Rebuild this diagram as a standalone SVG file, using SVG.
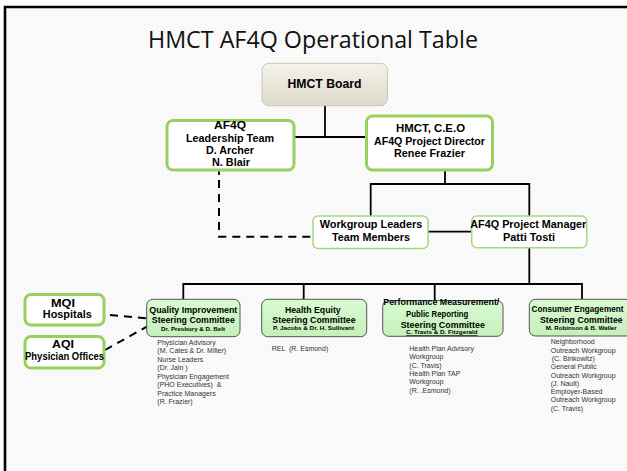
<svg xmlns="http://www.w3.org/2000/svg" width="627" height="471" viewBox="0 0 627 471">
<style>
.b{font-family:"Liberation Sans",Arial,sans-serif;font-weight:bold;fill:#000;text-anchor:middle}
.s{font-family:"Liberation Sans",Arial,sans-serif;font-size:7px;fill:#333}
.ln{fill:none;stroke:#000;stroke-width:1.8}
.dash{fill:none;stroke:#000;stroke-width:2;stroke-dasharray:8 6}
.gbox{fill:#fff;stroke:#98d05e;stroke-width:3}
.gthin{fill:#fff;stroke:#a8d87a;stroke-width:1.5}
.cbox{fill:url(#cg);stroke:#555;stroke-width:1}
</style>
<defs>
<pattern id="hatch" width="4" height="4" patternUnits="userSpaceOnUse">
<rect width="4" height="4" fill="#fcfcfc"/>
<path d="M-1,-1 L5,5 M3,-1 L5,1 M-1,3 L1,5" stroke="#efefef" stroke-width="0.9"/>
</pattern>
<linearGradient id="bg" x1="0" y1="0" x2="0" y2="1">
<stop offset="0" stop-color="#f4f2ea"/>
<stop offset="1" stop-color="#dedbc9"/>
</linearGradient>
<linearGradient id="cg" x1="0" y1="0" x2="0" y2="1">
<stop offset="0" stop-color="#d9fbd2"/>
<stop offset="1" stop-color="#c4f0ba"/>
</linearGradient>
</defs>
<rect x="0" y="0" width="627" height="471" fill="#fff"/>
<rect x="5" y="7" width="622" height="464" fill="url(#hatch)"/>
<path d="M5,471 V7 H627" fill="none" stroke="#000" stroke-width="2.6"/>

<text x="313" y="48" font-family="Open Sans, DejaVu Sans, sans-serif" font-size="24" fill="#111" text-anchor="middle" textLength="330" lengthAdjust="spacingAndGlyphs">HMCT AF4Q Operational Table</text>

<g id="connectors">
<path class="ln" d="M325,95 V137 M294,137 H366"/>
<path class="ln" d="M445,170 V184 M370.7,216 V184 H529.3 V216"/>
<path class="ln" d="M428,231.7 H471.7"/>
<path class="ln" d="M529.3,248 V284 M183.3,299 V284 H582 V299 M303.7,284 V299 M434.7,284 V300"/>
<path class="ln" d="M219,170 V175"/>
<path class="dash" d="M219,180 V236.7 H311.7"/>
<path class="dash" d="M110,315 L146.7,318.3"/>
<path class="dash" d="M105,350 L146.7,326.7"/>
</g>

<g id="board">
<rect x="262" y="63.3" width="125.5" height="42.4" rx="7" fill="url(#bg)" stroke="#c9c6b3" stroke-width="1"/>
<text class="b" x="324.5" y="88" font-size="12" textLength="74" lengthAdjust="spacingAndGlyphs">HMCT Board</text>
</g>

<g id="leadership">
<rect class="gbox" x="167" y="120.5" width="127" height="49.5" rx="6"/>
<text class="b" x="230" y="129" font-size="11" textLength="32" lengthAdjust="spacingAndGlyphs">AF4Q</text>
<text class="b" x="230" y="141.7" font-size="11" textLength="88" lengthAdjust="spacingAndGlyphs">Leadership Team</text>
<text class="b" x="230" y="154" font-size="11" textLength="48" lengthAdjust="spacingAndGlyphs">D. Archer</text>
<text class="b" x="231" y="166.3" font-size="11" textLength="38" lengthAdjust="spacingAndGlyphs">N. Blair</text>
</g>

<g id="ceo">
<rect class="gbox" x="366.5" y="116" width="126" height="54" rx="6"/>
<text class="b" x="430.5" y="131.7" font-size="11" textLength="69" lengthAdjust="spacingAndGlyphs">HMCT, C.E.O</text>
<text class="b" x="429.5" y="145" font-size="11" textLength="111" lengthAdjust="spacingAndGlyphs">AF4Q Project Director</text>
<text class="b" x="429.5" y="157.3" font-size="11" textLength="71" lengthAdjust="spacingAndGlyphs">Renee Frazier</text>
</g>

<g id="workgroup">
<rect class="gthin" x="313" y="216" width="115" height="32.5" rx="5"/>
<text class="b" x="371" y="228.3" font-size="11" textLength="102.7" lengthAdjust="spacingAndGlyphs">Workgroup  Leaders</text>
<text class="b" x="371" y="241" font-size="11" textLength="78" lengthAdjust="spacingAndGlyphs">Team Members</text>
</g>

<g id="manager">
<rect class="gthin" x="471.7" y="216" width="115" height="31.7" rx="5"/>
<text class="b" x="528.3" y="228.3" font-size="11" textLength="116" lengthAdjust="spacingAndGlyphs">AF4Q Project  Manager</text>
<text class="b" x="529" y="241" font-size="11" textLength="52" lengthAdjust="spacingAndGlyphs">Patti Tosti</text>
</g>

<g id="mqi">
<rect class="gbox" x="25" y="294.5" width="79" height="30.5" rx="6"/>
<text class="b" x="63" y="306.7" font-size="11" textLength="24" lengthAdjust="spacingAndGlyphs">MQI</text>
<text class="b" x="67.3" y="318.3" font-size="11" textLength="49" lengthAdjust="spacingAndGlyphs">Hospitals</text>
</g>

<g id="aqi">
<rect class="gbox" x="25" y="336.5" width="79" height="31.5" rx="6"/>
<text class="b" x="63" y="348.3" font-size="11" textLength="22" lengthAdjust="spacingAndGlyphs">AQI</text>
<text class="b" x="64.5" y="360" font-size="11" textLength="79" lengthAdjust="spacingAndGlyphs">Physician Offices</text>
</g>

<g id="quality">
<rect class="cbox" x="146.7" y="299.3" width="93.3" height="37.4" rx="6"/>
<text class="b" x="193.3" y="312.7" font-size="9" textLength="88" lengthAdjust="spacingAndGlyphs">Quality Improvement</text>
<text class="b" x="193.3" y="322.7" font-size="9" textLength="83" lengthAdjust="spacingAndGlyphs">Steering Committee</text>
<text class="b" x="193" y="330.7" font-size="6.2" textLength="64" lengthAdjust="spacingAndGlyphs">Dr. Presbury &amp; D. Belt</text>
<text class="s" x="157.3" y="345">Physician Advisory</text>
<text class="s" x="157.3" y="353.3">(M. Cates &amp; Dr. Miller)</text>
<text class="s" x="157.3" y="361.7">Nurse Leaders</text>
<text class="s" x="157.3" y="370">(Dr. Jain )</text>
<text class="s" x="157.3" y="378.7">Physician Engagement</text>
<text class="s" x="157.3" y="387.3" xml:space="preserve">(PHO Executives)  &amp;</text>
<text class="s" x="157.3" y="395.7">Practice Managers</text>
<text class="s" x="157.3" y="404.3">(R. Frazier)</text>
</g>

<g id="equity">
<rect class="cbox" x="261.7" y="299.3" width="105" height="37.4" rx="6"/>
<text class="b" x="312.8" y="312.7" font-size="9" textLength="55.7" lengthAdjust="spacingAndGlyphs">Health Equity</text>
<text class="b" x="314" y="322.7" font-size="9" textLength="83.3" lengthAdjust="spacingAndGlyphs">Steering Committee</text>
<text class="b" x="313.5" y="330" font-size="6.2" textLength="81" lengthAdjust="spacingAndGlyphs">P. Jacobs &amp; Dr. H. Sullivant</text>
<text class="s" x="271.7" y="351" xml:space="preserve">REL  (R. Esmond)</text>
</g>

<g id="performance">
<rect class="cbox" x="382.7" y="300.5" width="120.3" height="35.8" rx="6"/>
<text class="b" x="441.3" y="305" font-size="9" textLength="116" lengthAdjust="spacingAndGlyphs">Performance Measurement/</text>
<text class="b" x="437.2" y="317.3" font-size="9" textLength="62.3" lengthAdjust="spacingAndGlyphs">Public Reporting</text>
<text class="b" x="442.8" y="327.7" font-size="9" textLength="84.3" lengthAdjust="spacingAndGlyphs">Steering Committee</text>
<text class="b" x="441.8" y="334.3" font-size="6.2" textLength="71.7" lengthAdjust="spacingAndGlyphs" text-decoration="underline">C. Travis &amp; D. Fitzgerald</text>
<text class="s" x="409.3" y="351">Health Plan Advisory</text>
<text class="s" x="409.3" y="359.3">Workgroup</text>
<text class="s" x="409.3" y="367.6">(C. Travis)</text>
<text class="s" x="409.3" y="375.9">Health Plan TAP</text>
<text class="s" x="409.3" y="384.2">Workgroup</text>
<text class="s" x="409.3" y="392.5">(R. .Esmond)</text>
</g>

<g id="consumer">
<rect class="cbox" x="529.3" y="299.3" width="105" height="36.7" rx="6"/>
<text class="b" x="531.5" y="311.7" font-size="8.2" style="text-anchor:start" textLength="92" lengthAdjust="spacingAndGlyphs">Consumer Engagement</text>
<text class="b" x="581.3" y="322.7" font-size="9" textLength="82.7" lengthAdjust="spacingAndGlyphs">Steering Committee</text>
<text class="b" x="581.2" y="330" font-size="6.2" textLength="71" lengthAdjust="spacingAndGlyphs">M. Robinson &amp; B. Waller</text>
<text class="s" x="550.7" y="344.3">Neighborhood</text>
<text class="s" x="550.7" y="352.6">Outreach Workgroup</text>
<text class="s" x="551.7" y="360.9">(C. Binkowitz)</text>
<text class="s" x="550.7" y="369.2">General Public</text>
<text class="s" x="550.7" y="377.5">Outreach Workgroup</text>
<text class="s" x="550.7" y="385.8">(J. Nault)</text>
<text class="s" x="550.7" y="394.1">Employer-Based</text>
<text class="s" x="550.7" y="402.4">Outreach Workgroup</text>
<text class="s" x="550.7" y="410.7">(C. Travis)</text>
</g>
</svg>
